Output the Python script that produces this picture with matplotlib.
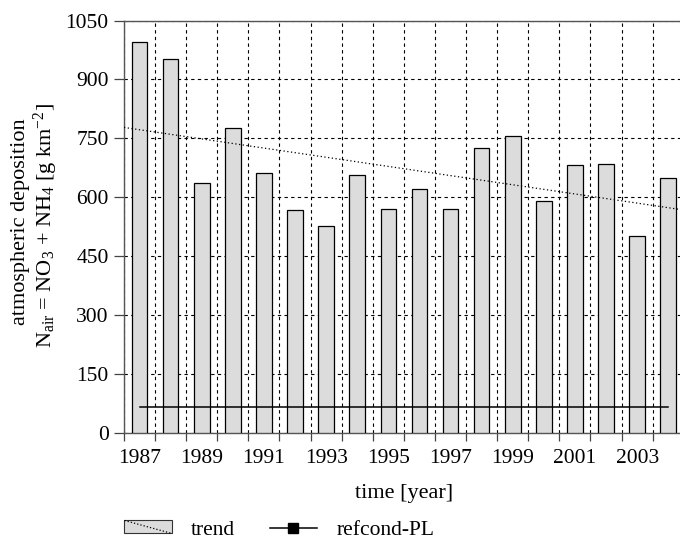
import matplotlib
matplotlib.use("Agg")
import matplotlib.pyplot as plt
import numpy as np
from matplotlib.patches import Patch, Rectangle
from matplotlib.lines import Line2D
from matplotlib.legend_handler import HandlerBase

plt.rcParams['font.family'] = 'Liberation Serif'
plt.rcParams['mathtext.fontset'] = 'custom'
plt.rcParams['mathtext.rm'] = 'Liberation Serif'
plt.rcParams['mathtext.it'] = 'Liberation Serif:italic'

years = list(range(1987, 2005))
deposition = [995, 952, 636, 777, 663, 569, 527, 657, 570, 621,
              570, 726, 756, 592, 682, 686, 503, 649]
refcond = 67
trend_start, trend_end = 778, 568


class HandlerTrend(HandlerBase):
    # grey box with a dotted diagonal, as in the reference legend
    def create_artists(self, legend, orig_handle, xdescent, ydescent,
                       width, height, fontsize, trans):
        r = Rectangle((-xdescent, -ydescent), width, height,
                      facecolor='#dcdcdc', edgecolor='#333333', lw=0.8,
                      transform=trans)
        l = Line2D([-xdescent, -xdescent + width], [-ydescent + height, -ydescent],
                   color='black', ls=':', lw=0.9, transform=trans)
        return [r, l]


fig = plt.figure(figsize=(6.8, 5.41), dpi=100)
ax = fig.add_axes([124 / 680, 1 - 433.3 / 541, 559.8 / 680, 412.8 / 541])

x = np.arange(len(years))
ax.bar(x, deposition, width=0.5, color='#dcdcdc', edgecolor='black', lw=0.9, zorder=3)
ax.plot([x[0], x[-1]], [refcond, refcond], color='black', lw=1.1, zorder=4)
ax.plot([-0.5, len(years) - 0.5], [trend_start, trend_end], color='black',
        ls=(0, (1, 2)), lw=0.9, zorder=4)

ax.set_xlim(-0.5, len(years) - 0.5)
ax.set_ylim(0, 1050)
ax.set_yticks(np.arange(0, 1051, 150))
ax.set_xticks(np.arange(-0.5, len(years), 1.0))
ax.set_xticklabels([])
ax.set_xticks(x[::2], minor=True)
ax.set_xticklabels([str(y) for y in years[::2]], minor=True)
ax.tick_params(axis='x', which='minor', length=0, labelsize=15.5, pad=11)
ax.tick_params(axis='x', which='major', length=6, width=0.9, color='#444444')
ax.tick_params(axis='y', length=7, width=0.9, color='#444444', labelsize=15.5, pad=4)

ax.grid(True, which='major', color='black', ls=(0, (3, 3)), lw=0.8, zorder=1)
ax.set_axisbelow(True)
for s in ax.spines.values():
    s.set_color('#555555')
    s.set_linewidth(1.0)

ax.set_xlabel('time [year]', fontsize=16, labelpad=12)
fig.text(21 / 680, 1 - 222 / 541, 'atmospheric deposition', rotation=90,
         ha='center', va='center', fontsize=16)
fig.text(46 / 680, 1 - 226 / 541,
         r'N$_{\mathrm{air}}$ = NO$_3$ + NH$_4$ [g km$^{\mathrm{-2}}$]',
         rotation=90, ha='center', va='center', fontsize=16)

h_trend = Patch(facecolor='#dcdcdc')
h_ref = Line2D([], [], color='black', lw=1.1, marker='s', markersize=7)
fig.legend([h_trend, h_ref], ['trend', 'refcond-PL'],
           handler_map={Patch: HandlerTrend()},
           loc='center left', bbox_to_anchor=(105 / 680, 1 - 530 / 541),
           ncol=2, frameon=False, fontsize=15.5, handlelength=2.2,
           handleheight=0.55, columnspacing=1.6, handletextpad=0.9)

fig.savefig('out.png', dpi=100)
